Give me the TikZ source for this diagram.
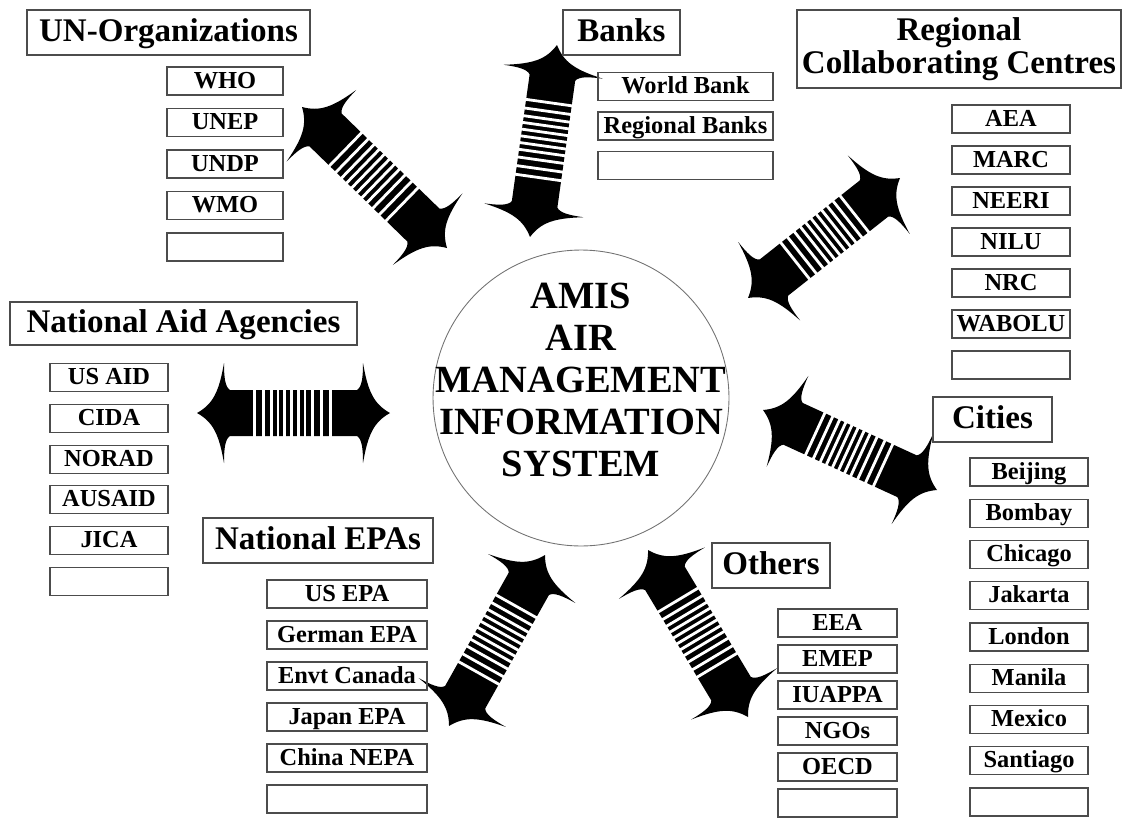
\documentclass[tikz,border=0pt]{standalone}
\usepackage{fontspec}
\setmainfont{Liberation Serif}
% double-headed striped arrow between two points (pixel units)
\newcommand{\amisarrow}[4]{%
  \pgfmathsetmacro{\arrlen}{veclen(#3-#1,#4-#2)}%
  \pgfmathsetmacro{\arrang}{atan2(#2-#4,#3-#1)}%
  \begin{scope}[shift={(#1,#2)},rotate=\arrang]
    \fill[black] (0,0) .. controls (16,9) and (22,21) .. (27,50)
      .. controls (27,36) and (28,26) .. (33,23)
      -- ({\arrlen-33},23) .. controls ({\arrlen-28},26) and ({\arrlen-27},36) .. ({\arrlen-27},50)
      .. controls ({\arrlen-22},21) and ({\arrlen-16},9) .. (\arrlen,0)
      .. controls ({\arrlen-16},-9) and ({\arrlen-22},-21) .. ({\arrlen-27},-50)
      .. controls ({\arrlen-27},-36) and ({\arrlen-28},-26) .. ({\arrlen-33},-23)
      -- (33,-23) .. controls (28,-26) and (27,-36) .. (27,-50)
      .. controls (22,-21) and (16,-9) .. cycle;
    \foreach \s in {0.30,0.345,0.385,0.42,0.455,0.49,0.525,0.56,0.6,0.645,0.69}
      \draw[white,line width=1.6pt] ({\s*\arrlen},-24) -- ({\s*\arrlen},24);
  \end{scope}}
\begin{document}
\begin{tikzpicture}[x=0.02cm,y=-0.02cm,
  groupbox/.style={draw=black!70,line width=0.7pt,inner sep=0pt,minimum height=0.9cm,
    font=\fontsize{18.8}{18.5}\selectfont\bfseries},
  grouptitle/.style={groupbox,text height=12.4pt,text depth=2pt},
  member/.style={draw=black!70,line width=0.6pt,inner sep=0pt,minimum height=0.56cm,
    text height=9.2pt,text depth=1.2pt,font=\fontsize{13.9}{15}\selectfont\bfseries}]
\useasboundingbox (0,0) rectangle (1126,818);

% centre
\node[draw=black!55,line width=0.5pt,circle,minimum size=5.92cm] (amis) at (581,398) {};
\node[align=center,font=\fontsize{21.9}{23.9}\selectfont\bfseries] (amistxt) at (581,380)
  {AMIS\\AIR\\MANAGEMENT\\INFORMATION\\SYSTEM};

% arrows
\amisarrow{302}{107}{447}{248}
\amisarrow{557}{45}{530}{237}
\amisarrow{900}{178}{748}{298}
\amisarrow{197}{413}{390}{413}
\amisarrow{545}{555}{449}{726}
\amisarrow{648}{550}{748}{717}
\amisarrow{763}{410}{937}{490}

% UN organisations
\node[grouptitle,minimum width=5.66cm] (un) at (168.5,32.5) {UN-Organizations};
\foreach \n/\t [count=\i from 0] in {who/WHO,unep/UNEP,undp/UNDP,wmo/WMO,un5/{}}
  \node[member,minimum width=2.32cm] (\n) at (225,{81+\i*41.5}) {\t};

% banks
\node[grouptitle,minimum width=2.34cm] (banks) at (621.5,32.5) {Banks};
\foreach \n/\t [count=\i from 0] in {wb/World Bank,rb/Regional Banks,bk3/{}}
  \node[member,minimum width=3.5cm] (\n) at (685.5,{86.5+\i*39.5}) {\t};

% regional centres
\node[groupbox,align=center,minimum width=6.48cm,minimum height=1.56cm] (rcc) at (959,49)
  {Regional\\Collaborating Centres};
\foreach \n/\t [count=\i from 0] in {aea/AEA,marc/MARC,neeri/NEERI,nilu/NILU,nrc/NRC,wabolu/WABOLU,rc7/{}}
  \node[member,minimum width=2.36cm] (\n) at (1011,{119+\i*41}) {\t};

% national aid agencies
\node[grouptitle,minimum width=6.94cm,minimum height=0.86cm] (aid) at (183.5,323.5) {National Aid Agencies};
\foreach \n/\t [count=\i from 0] in {usaid/US AID,cida/CIDA,norad/NORAD,ausaid/AUSAID,jica/JICA,aid6/{}}
  \node[member,minimum width=2.36cm] (\n) at (109,{377.5+\i*40.8}) {\t};

% national EPAs
\node[grouptitle,minimum width=4.6cm] (epa) at (318,540.5) {National EPAs};
\foreach \n/\t [count=\i from 0] in {usepa/US EPA,gerepa/German EPA,canada/Envt Canada,japepa/Japan EPA,china/China NEPA,epa6/{}}
  \node[member,minimum width=3.2cm] (\n) at (347,{594+\i*41}) {\t};

% others
\node[grouptitle,minimum width=2.36cm] (others) at (771,565.5) {Others};
\foreach \n/\t [count=\i from 0] in {eea/EEA,emep/EMEP,iuappa/IUAPPA,ngos/NGOs,oecd/OECD,oth6/{}}
  \node[member,minimum width=2.38cm] (\n) at (837.5,{623+\i*36}) {\t};

% cities
\node[grouptitle,minimum width=2.38cm] (cities) at (992.5,419.5) {Cities};
\foreach \n/\t [count=\i from 0] in {beijing/Beijing,bombay/Bombay,chicago/Chicago,jakarta/Jakarta,london/London,manila/Manila,mexico/Mexico,santiago/Santiago,city9/{}}
  \node[member,minimum width=2.36cm] (\n) at (1029,{472+\i*41.25}) {\t};
\end{tikzpicture}
\end{document}
